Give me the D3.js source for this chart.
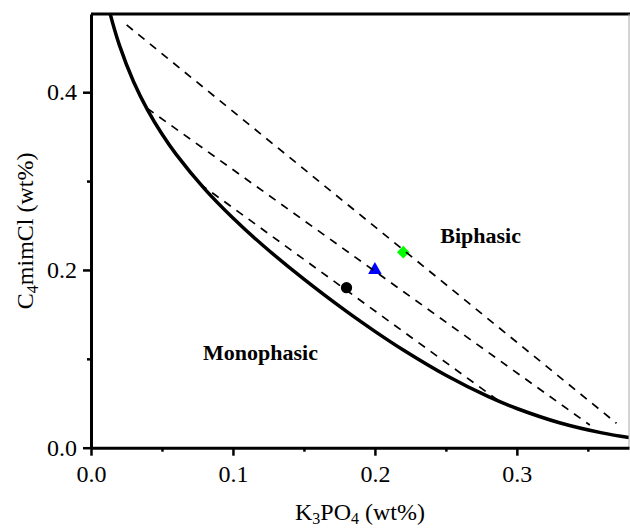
<!DOCTYPE html>
<html>
<head>
<meta charset="utf-8">
<script src="https://cdn.jsdelivr.net/npm/d3@7"></script>
<style>
  body { margin: 0; background: #fff; }
  svg { display: block; font-family: "Liberation Serif", "Times New Roman", serif; }
</style>
</head>
<body>
<svg id="chart" width="630" height="528"></svg>
<script>
// binodal curve (K3PO4 wt%, C4mimCl wt%)
const binodalX = [0.010, 0.0134, 0.020, 0.030, 0.040, 0.050, 0.060, 0.080, 0.100, 0.120, 0.150, 0.180, 0.200, 0.220, 0.250, 0.280, 0.300, 0.330, 0.360, 0.379];
const binodalY = [0.5126, 0.4889, 0.4530, 0.4118, 0.3796, 0.3530, 0.3301, 0.2913, 0.2585, 0.2292, 0.1896, 0.1533, 0.1309, 0.1099, 0.0815, 0.0574, 0.0441, 0.0281, 0.0167, 0.0115];

// tie lines: [x1, y1, x2, y2]
const tieLines = [
  [0.0251, 0.4757, 0.3702, 0.0275],
  [0.0395, 0.3820, 0.3514, 0.0255],
  [0.0768, 0.2968, 0.2880, 0.0518]
];

// mixture points
const pointX = [0.18, 0.20, 0.22];
const pointY = [0.18, 0.20, 0.22];
const pointShape = ['circle', 'triangle', 'diamond'];
const pointColor = ['#000000', '#0000ff', '#00ff00'];

const xTicks = [0.0, 0.1, 0.2, 0.3];
const xMinorTicks = [0.05, 0.15, 0.25, 0.35];
const yTicks = [0.0, 0.2, 0.4];
const yMinorTicks = [0.1, 0.3];

const regionLabels = [
  { text: 'Monophasic', x: 0.0789, y: 0.0987 },
  { text: 'Biphasic', x: 0.246, y: 0.2307 }
];

const svg = d3.select('#chart');
const mLeft = 91, mRight = 629, mTop = 14, mBottom = 447.7;

const x = d3.scaleLinear().domain([0, 0.379]).range([mLeft, mRight]);
const y = d3.scaleLinear().domain([0, 0.488]).range([mBottom, mTop]);

svg.append('defs').append('clipPath').attr('id', 'plot-clip')
  .append('rect')
  .attr('x', mLeft).attr('y', mTop)
  .attr('width', mRight - mLeft).attr('height', mBottom - mTop);

const plot = svg.append('g').attr('clip-path', 'url(#plot-clip)');

// binodal curve
const curve = binodalX.map((d, i) => [d, binodalY[i]]);
plot.append('path')
  .datum(curve)
  .attr('fill', 'none')
  .attr('stroke', '#000')
  .attr('stroke-width', 3.5)
  .attr('stroke-linejoin', 'round')
  .attr('d', d3.line().x(d => x(d[0])).y(d => y(d[1])).curve(d3.curveCatmullRom.alpha(0.5)));

// markers
const symbolFor = { circle: d3.symbolCircle, triangle: d3.symbolTriangle, diamond: d3.symbolSquare };
const sizeFor = { circle: 100, triangle: 80, diamond: 80 };
plot.selectAll('.pt')
  .data(pointX.map((d, i) => ({ x: d, y: pointY[i], shape: pointShape[i], color: pointColor[i] })))
  .enter()
  .append('path')
  .attr('class', 'pt')
  .attr('d', d => d3.symbol().type(symbolFor[d.shape]).size(sizeFor[d.shape])())
  .attr('fill', d => d.color)
  .attr('transform', d => `translate(${x(d.x)},${y(d.y)})` + (d.shape === 'diamond' ? ' rotate(45)' : ''));

// tie lines
plot.selectAll('.tie')
  .data(tieLines)
  .enter()
  .append('line')
  .attr('class', 'tie')
  .attr('x1', d => x(d[0])).attr('y1', d => y(d[1]))
  .attr('x2', d => x(d[2])).attr('y2', d => y(d[3]))
  .attr('stroke', '#000')
  .attr('stroke-width', 1.7)
  .attr('stroke-dasharray', '8,7');

// region labels
svg.selectAll('.region')
  .data(regionLabels)
  .enter()
  .append('text')
  .attr('class', 'region')
  .attr('x', d => x(d.x))
  .attr('y', d => y(d.y))
  .attr('font-size', 22)
  .attr('font-weight', 'bold')
  .text(d => d.text);

// frame: top and right
svg.append('line').attr('x1', mLeft).attr('x2', 630).attr('y1', mTop).attr('y2', mTop)
  .attr('stroke', '#000').attr('stroke-width', 3);
svg.append('line').attr('x1', mRight).attr('x2', mRight).attr('y1', mTop).attr('y2', mBottom)
  .attr('stroke', '#aaa').attr('stroke-width', 1);

// axes
const xAxis = svg.append('g').attr('transform', `translate(0,${mBottom})`)
  .call(d3.axisBottom(x).tickValues(xTicks).tickSize(8).tickSizeOuter(0).tickPadding(9).tickFormat(d3.format('.1f')));
const xMinor = svg.append('g').attr('transform', `translate(0,${mBottom})`)
  .call(d3.axisBottom(x).tickValues(xMinorTicks).tickSize(4).tickSizeOuter(0).tickFormat(''));
const yAxis = svg.append('g').attr('transform', `translate(${mLeft},0)`)
  .call(d3.axisLeft(y).tickValues(yTicks).tickSize(8).tickSizeOuter(0).tickPadding(6).tickFormat(d3.format('.1f')));
const yMinor = svg.append('g').attr('transform', `translate(${mLeft},0)`)
  .call(d3.axisLeft(y).tickValues(yMinorTicks).tickSize(4).tickSizeOuter(0).tickFormat(''));

[xAxis, xMinor, yAxis, yMinor].forEach(g => {
  g.select('.domain').attr('stroke', '#000').attr('stroke-width', 3);
  g.selectAll('.tick line').attr('stroke', '#000').attr('stroke-width', 2.5);
  g.selectAll('.tick text')
    .attr('fill', '#000')
    .attr('font-family', '"Liberation Serif", "Times New Roman", serif')
    .attr('font-size', 24);
});
xMinor.select('.domain').remove();
yMinor.select('.domain').remove();

// axis titles
const xTitle = svg.append('text')
  .attr('x', (mLeft + mRight) / 2)
  .attr('y', 520)
  .attr('text-anchor', 'middle')
  .attr('font-size', 24);
xTitle.append('tspan').text('K');
xTitle.append('tspan').attr('font-size', 16).attr('dy', 4).text('3');
xTitle.append('tspan').attr('dy', -4).text('PO');
xTitle.append('tspan').attr('font-size', 16).attr('dy', 4).text('4');
xTitle.append('tspan').attr('dy', -4).text(' (wt%)');

const yTitle = svg.append('text')
  .attr('transform', `translate(33,${(mTop + mBottom) / 2}) rotate(-90)`)
  .attr('text-anchor', 'middle')
  .attr('font-size', 24);
yTitle.append('tspan').text('C');
yTitle.append('tspan').attr('font-size', 16).attr('dy', 5).text('4');
yTitle.append('tspan').attr('dy', -5).text('mimCl (wt%)');
</script>
</body>
</html>
